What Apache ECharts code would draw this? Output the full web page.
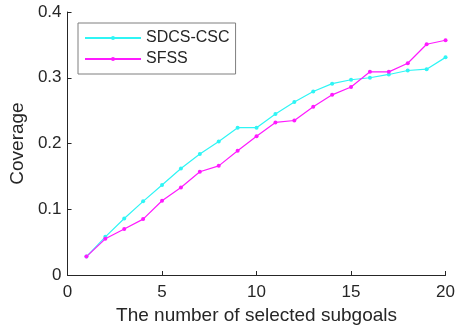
<!DOCTYPE html>
<html>
<head>
<meta charset="utf-8">
<script src="https://cdn.jsdelivr.net/npm/echarts@6/dist/echarts.min.js"></script>
<style>html,body{margin:0;padding:0;background:#fff}#c{width:458px;height:332px}</style>
</head>
<body>
<div id="c"></div>
<script>
const xValues = [1,2,3,4,5,6,7,8,9,10,11,12,13,14,15,16,17,18,19,20];
const sdcsCsc = [0.028,0.058,0.086,0.112,0.137,0.162,0.184,0.203,0.224,0.224,0.245,0.263,0.279,0.291,0.297,0.300,0.305,0.311,0.313,0.331];
const sfss    = [0.028,0.055,0.070,0.085,0.113,0.133,0.157,0.166,0.189,0.211,0.232,0.235,0.256,0.274,0.286,0.309,0.309,0.322,0.351,0.357];
const seriesNames = ['SDCS-CSC','SFSS'];
const xTitle = 'The number of selected subgoals';
const yTitle = 'Coverage';

const font = 'Liberation Sans, Arial, sans-serif';
const ink = '#262626';
const chart = echarts.init(document.getElementById('c'), null, {renderer:'canvas'});
function pairs(ys){ return xValues.map((x,i)=>[x, ys[i]]); }
chart.setOption({
  animation:false,
  backgroundColor:'#fff',
  grid:{left:65.5, right:9, top:12, bottom:57, containLabel:false},
  legend:{
    orient:'vertical', left:78, top:23,
    backgroundColor:'#fff', borderColor:'#7f7f7f', borderWidth:1,
    padding:[7,6,7,6], itemGap:5, itemWidth:56, itemHeight:5,
    textStyle:{fontFamily:font, fontSize:16, color:ink, lineHeight:16},
    data:seriesNames
  },
  xAxis:{
    type:'value', min:0, max:20, interval:5,
    name:xTitle, nameLocation:'middle', nameGap:31,
    nameTextStyle:{fontFamily:font, fontSize:19, color:ink},
    axisLine:{lineStyle:{color:ink, width:1}},
    axisTick:{inside:true, length:4, lineStyle:{color:ink}},
    axisLabel:{fontFamily:font, fontSize:17, color:ink, margin:9},
    splitLine:{show:false}
  },
  yAxis:{
    type:'value', min:0, max:0.4, interval:0.1,
    name:yTitle, nameLocation:'middle', nameGap:38, nameRotate:90,
    nameTextStyle:{fontFamily:font, fontSize:19, color:ink},
    axisLine:{show:true, lineStyle:{color:ink, width:1}},
    axisTick:{show:true, inside:true, length:4, lineStyle:{color:ink}},
    axisLabel:{fontFamily:font, fontSize:17, color:ink, margin:6,
      formatter:v=> v===0 ? '0' : String(Math.round(v*10)/10)},
    splitLine:{show:false}
  },
  series:[
    {name:seriesNames[0], type:'line', data:pairs(sdcsCsc), symbol:'circle', symbolSize:4,
     itemStyle:{color:'#2ff5f5'}, lineStyle:{color:'#2ff5f5', width:1.2}},
    {name:seriesNames[1], type:'line', data:pairs(sfss), symbol:'circle', symbolSize:4,
     itemStyle:{color:'#ff1aff'}, lineStyle:{color:'#ff1aff', width:1.2}}
  ]
});
</script>
</body>
</html>
